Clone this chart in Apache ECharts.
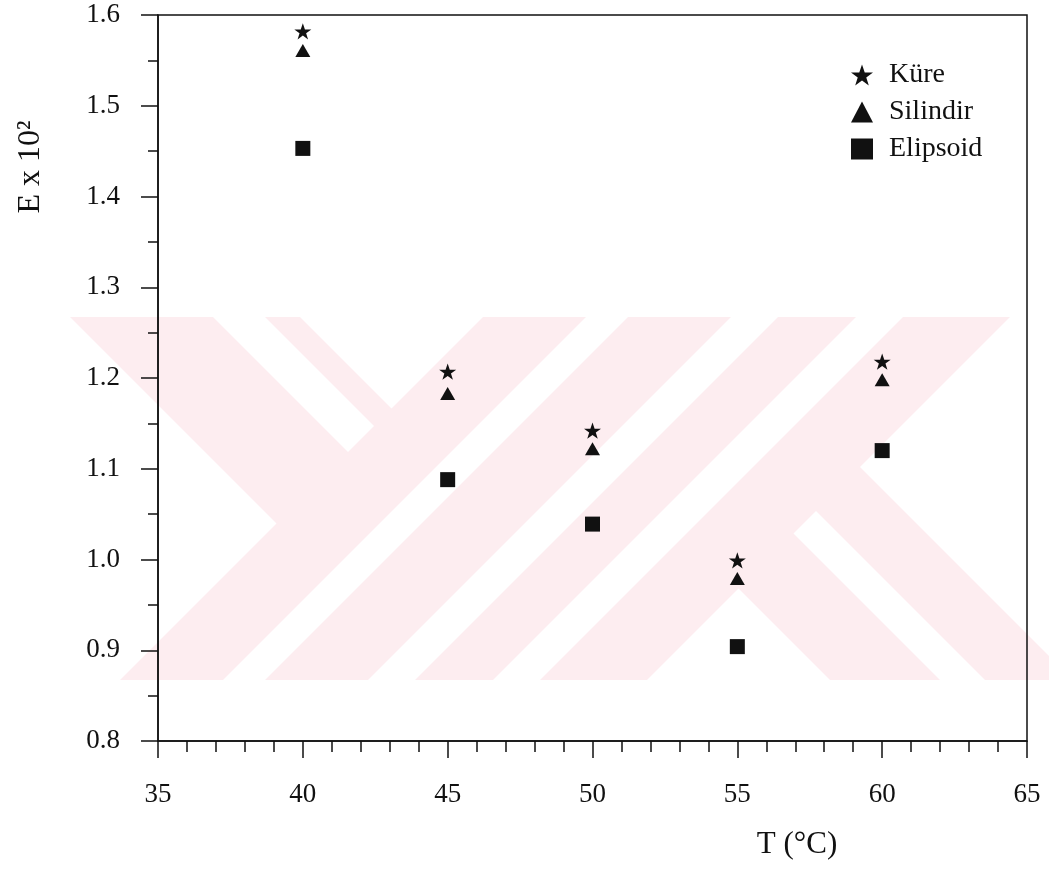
<!DOCTYPE html>
<html>
<head>
<meta charset="utf-8">
<script src="https://cdn.jsdelivr.net/npm/echarts@6/dist/echarts.min.js"></script>
<style>
html, body {
  margin: 0;
  padding: 0;
  background: #ffffff;
}
#main {
  width: 1049px;
  height: 870px;
}
</style>
</head>
<body>
<div id="main"></div>
<script>
var temps = [40, 45, 50, 55, 60]
var kure = [1.582, 1.207, 1.142, 0.999, 1.218]
var silindir = [1.561, 1.183, 1.122, 0.979, 1.198]
var elipsoid = [1.453, 1.088, 1.039, 0.904, 1.120]
var seriesNames = ['Küre', 'Silindir', 'Elipsoid']

var starPath = 'path://M50,0 L61.8,34.5 L97.6,34.5 L68.5,55.9 L79.4,90.5 L50,69.1 L20.6,90.5 L31.5,55.9 L2.4,34.5 L38.2,34.5 Z'
var serif = '"Liberation Serif", "DejaVu Serif", serif'
var ink = '#111111'
var pink = '#fdedf0'

function pairs(ys) {
  return temps.map(function (t, i) { return [t, ys[i]] })
}

// faint background stamp of the scanned page
function stamp() {
  var white = [
    [[70, 317], [276.5, 523.5], [120, 680], [70, 680]],
    [[213, 317], [265, 317], [374, 426], [348, 452]],
    [[300, 317], [483, 317], [391.5, 408.5]],
    [[586, 317], [628, 317], [265, 680], [223, 680]],
    [[731, 317], [778, 317], [415, 680], [368, 680]],
    [[856, 317], [903, 317], [540, 680], [493, 680]],
    [[738.5, 588.5], [830, 680], [647, 680]],
    [[793.5, 533.5], [816, 511], [985, 680], [940, 680]],
    [[860, 467], [1010, 317], [1049, 317], [1049, 656]]
  ]
  var els = [{
    type: 'rect',
    silent: true,
    z: -10,
    shape: { x: 70, y: 317, width: 979, height: 363 },
    style: { fill: pink }
  }]
  white.forEach(function (pts) {
    els.push({
      type: 'polygon',
      silent: true,
      z: -9,
      shape: { points: pts },
      style: { fill: '#ffffff' }
    })
  })
  return els
}

var chart = echarts.init(document.getElementById('main'))

var graphics = stamp()
graphics.push({
  type: 'text',
  x: 797,
  y: 845,
  style: {
    text: 'T (°C)',
    align: 'center',
    verticalAlign: 'middle',
    font: '31px ' + serif,
    fill: ink
  }
})
graphics.push({
  type: 'text',
  x: 31,
  y: 167,
  rotation: Math.PI / 2,
  style: {
    text: 'E x 10²',
    align: 'center',
    verticalAlign: 'middle',
    font: '32px ' + serif,
    fill: ink
  }
})

chart.setOption({
  backgroundColor: '#ffffff',
  animation: false,
  grid: {
    left: 158,
    right: 22,
    top: 15,
    bottom: 129,
    show: true,
    borderColor: ink,
    borderWidth: 1.5,
    backgroundColor: 'transparent'
  },
  legend: {
    orient: 'vertical',
    left: 846,
    top: 56,
    itemWidth: 22,
    itemHeight: 21,
    itemGap: 9,
    data: seriesNames,
    textStyle: {
      fontFamily: serif,
      fontSize: 28,
      color: ink,
      padding: [0, 0, 0, 11]
    }
  },
  graphic: graphics,
  xAxis: {
    type: 'value',
    min: 35,
    max: 65,
    interval: 5,
    axisLine: { lineStyle: { color: ink, width: 1.5 } },
    axisTick: { inside: false, length: 17, lineStyle: { color: ink, width: 1.5 } },
    minorTick: { show: true, splitNumber: 5, length: 11, lineStyle: { color: ink, width: 1.5 } },
    splitLine: { show: false },
    axisLabel: {
      margin: 40,
      fontFamily: serif,
      fontSize: 27,
      color: ink
    }
  },
  yAxis: {
    type: 'value',
    min: 0.8,
    max: 1.6,
    interval: 0.1,
    axisLine: { lineStyle: { color: ink, width: 1.5 } },
    axisTick: { inside: false, length: 17, lineStyle: { color: ink, width: 1.5 } },
    minorTick: { show: true, splitNumber: 2, length: 10, lineStyle: { color: ink, width: 1.5 } },
    splitLine: { show: false },
    axisLabel: {
      margin: 38,
      fontFamily: serif,
      fontSize: 27,
      color: ink,
      formatter: function (v) { return v.toFixed(1) }
    }
  },
  series: [
    {
      name: 'Küre',
      type: 'scatter',
      symbol: starPath,
      symbolSize: 17,
      symbolKeepAspect: true,
      itemStyle: { color: ink, opacity: 1 },
      data: pairs(kure)
    },
    {
      name: 'Silindir',
      type: 'scatter',
      symbol: 'triangle',
      symbolSize: [15, 13],
      itemStyle: { color: ink, opacity: 1 },
      data: pairs(silindir)
    },
    {
      name: 'Elipsoid',
      type: 'scatter',
      symbol: 'rect',
      symbolSize: 15,
      itemStyle: { color: ink, opacity: 1 },
      data: pairs(elipsoid)
    }
  ]
})
</script>
</body>
</html>
